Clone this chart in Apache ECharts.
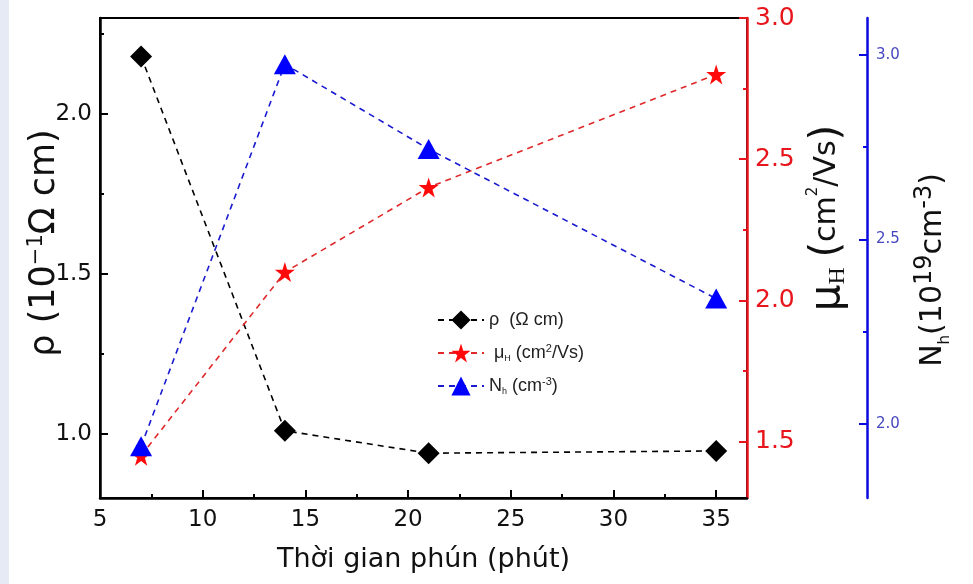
<!DOCTYPE html>
<html>
<head>
<meta charset="utf-8">
<script src="https://cdn.jsdelivr.net/npm/echarts@6/dist/echarts.min.js"></script>
<style>
  html, body { margin: 0; padding: 0; background: #fff; }
  #main { width: 973px; height: 584px; }
</style>
</head>
<body>
<div id="main"></div>
<script>
// thời gian phún (phút)
var times = [7, 14, 21, 35]
var rho = [2.18, 1.01, 0.94, 0.947]      // 10^-1 Ω cm
var mu = [1.45, 2.10, 2.40, 2.80]        // cm2/Vs
var nh = [1.94, 2.975, 2.745, 2.34]      // 10^19 cm-3

var xTicks = [5, 10, 15, 20, 25, 30, 35]
var rhoTicks = [1.0, 1.5, 2.0]
var muTicks = [1.5, 2.0, 2.5, 3.0]
var nhTicks = [2.0, 2.5, 3.0]

var RED = '#e8161c'
var BLUE = '#0a0ae0'
var FONT = '"Liberation Sans", Arial, sans-serif'
var WIDE = '"DejaVu Sans", sans-serif'

var starPath = 'path://M50 0 L61.23 34.55 L97.55 34.55 L68.17 55.9 L79.39 90.45 L50 69.1 L20.61 90.45 L31.83 55.9 L2.45 34.55 L38.77 34.55 Z'

function pairs(ys) {
  var out = []
  for (var i = 0; i < times.length; i++) out.push([times[i], ys[i]])
  return out
}

var chart = echarts.init(document.getElementById('main'))

var option = {
  backgroundColor: '#fff',
  animation: false,
  textStyle: { fontFamily: FONT },
  graphic: [
    { type: 'rect', left: 0, top: 0, shape: { width: 9, height: 584 }, style: { fill: '#e6eaf5' } }
  ],
  grid: {
    left: 100, right: 226, top: 18, bottom: 86,
    show: true, borderColor: '#000', borderWidth: 2, backgroundColor: 'transparent'
  },
  legend: {
    left: 432, top: 305, orient: 'vertical',
    itemWidth: 46, itemHeight: 24, itemGap: 13,
    textStyle: {
      fontSize: 18, color: '#222', fontFamily: FONT, lineHeight: 20,
      rich: {
        sub: { fontSize: 9, verticalAlign: 'bottom', lineHeight: 20 },
        sup: { fontSize: 11, verticalAlign: 'top', lineHeight: 20 }
      }
    },
    formatter: function (name) {
      if (name === 'rho') return 'ρ  (Ω cm)'
      if (name === 'mu') return ' μ{sub|H} (cm{sup|2}/Vs)'
      return 'N{sub|h} (cm{sup|-3})'
    },
    data: ['rho', 'mu', 'nh']
  },
  xAxis: {
    type: 'value', min: 5, max: 36.5, interval: 5,
    name: 'Thời gian phún (phút)', nameLocation: 'middle', nameGap: 48,
    nameTextStyle: { fontSize: 27, color: '#111', fontFamily: WIDE },
    axisLine: { lineStyle: { color: '#000', width: 2.5 } },
    axisTick: { inside: true, length: 8, lineStyle: { width: 2, color: '#000' }, customValues: xTicks },
    minorTick: { show: true, splitNumber: 2, length: 4, lineStyle: { width: 2, color: '#000' } },
    axisLabel: { fontSize: 23, color: '#111', margin: 11, fontFamily: WIDE, customValues: xTicks },
    splitLine: { show: false }
  },
  yAxis: [
    {
      type: 'value', position: 'left', min: 0.8, max: 2.3,
      minInterval: 0.5, maxInterval: 0.5,
      name: 'ρ (10{sup|−1}Ω cm)', nameLocation: 'middle', nameRotate: 90, nameGap: 36,
      nameMoveOverlap: false,
      nameTextStyle: {
        fontSize: 35, color: '#111', fontFamily: WIDE, padding: [0, 0, 0, 30],
        rich: { sup: { fontSize: 21, verticalAlign: 'top', lineHeight: 38, fontFamily: WIDE } }
      },
      axisLine: { show: true, lineStyle: { color: '#000', width: 2.5 } },
      axisTick: { inside: true, length: 8, lineStyle: { width: 2, color: '#000' }, customValues: rhoTicks },
      minorTick: { show: true, splitNumber: 2, length: 4, lineStyle: { width: 2, color: '#000' } },
      axisLabel: {
        fontSize: 23, color: '#111', margin: 8, fontFamily: WIDE, customValues: rhoTicks,
        formatter: function (v) { return v.toFixed(1) }
      },
      splitLine: { show: false }
    },
    {
      type: 'value', position: 'right', min: 1.3, max: 3.0,
      minInterval: 0.5, maxInterval: 0.5,
      name: '{mu|μ}{h|H} {p|(}cm{sup|2}/Vs{p|)}', nameLocation: 'middle', nameRotate: 90, nameGap: 44,
      nameTextStyle: {
        fontSize: 30, color: '#111', fontFamily: WIDE, padding: [0, 0, 0, 80],
        rich: {
          mu: { fontSize: 42, fontFamily: WIDE },
          h: { fontSize: 24, fontFamily: '"Liberation Serif", serif', verticalAlign: 'bottom', lineHeight: 44 },
          p: { fontSize: 40, fontFamily: WIDE },
          sup: { fontSize: 15, verticalAlign: 'top', lineHeight: 38, fontFamily: WIDE }
        }
      },
      axisLine: { show: true, lineStyle: { color: RED, width: 2.5 } },
      axisTick: { inside: true, length: 8, lineStyle: { width: 2, color: RED }, customValues: muTicks },
      minorTick: { show: true, splitNumber: 2, length: 4, lineStyle: { width: 2, color: RED } },
      axisLabel: {
        fontSize: 25, color: RED, margin: 8, fontFamily: WIDE, customValues: muTicks,
        formatter: function (v) { return v.toFixed(1) }
      },
      splitLine: { show: false }
    },
    {
      type: 'value', position: 'right', offset: 120, min: 1.8, max: 3.1,
      minInterval: 0.5, maxInterval: 0.5,
      name: 'N{sub|h}(10{sup|19}cm{sup|-3})', nameLocation: 'middle', nameRotate: 90, nameGap: 46,
      nameTextStyle: {
        fontSize: 30, color: '#111', fontFamily: WIDE, padding: [0, 24, 0, 0],
        rich: {
          sub: { fontSize: 15, verticalAlign: 'bottom', lineHeight: 40, fontFamily: WIDE },
          sup: { fontSize: 24, verticalAlign: 'top', lineHeight: 40, fontFamily: WIDE }
        }
      },
      axisLine: { show: true, lineStyle: { color: BLUE, width: 2.5 } },
      axisTick: { inside: true, length: 8, lineStyle: { width: 2, color: BLUE }, customValues: nhTicks },
      minorTick: { show: true, splitNumber: 2, length: 4, lineStyle: { width: 2, color: BLUE } },
      axisLabel: {
        fontSize: 15, color: '#4646c0', margin: 9, fontFamily: WIDE, customValues: nhTicks,
        formatter: function (v) { return v.toFixed(1) }
      },
      splitLine: { show: false }
    }
  ],
  series: [
    {
      name: 'rho', type: 'line', yAxisIndex: 0, data: pairs(rho),
      symbol: 'diamond', symbolSize: 22,
      itemStyle: { color: '#000' },
      lineStyle: { color: '#000', width: 1.6, type: [6, 5] }
    },
    {
      name: 'mu', type: 'line', yAxisIndex: 1, data: pairs(mu),
      symbol: starPath, symbolSize: 20,
      itemStyle: { color: '#ff0a0a' },
      lineStyle: { color: '#e0282a', width: 1.6, type: [6, 5] }
    },
    {
      name: 'nh', type: 'line', yAxisIndex: 2, data: pairs(nh),
      symbol: 'triangle', symbolSize: [22, 20],
      itemStyle: { color: '#0000ff' },
      lineStyle: { color: '#1a1ad0', width: 1.6, type: [6, 5] }
    }
  ]
}

chart.setOption(option)
</script>
</body>
</html>
